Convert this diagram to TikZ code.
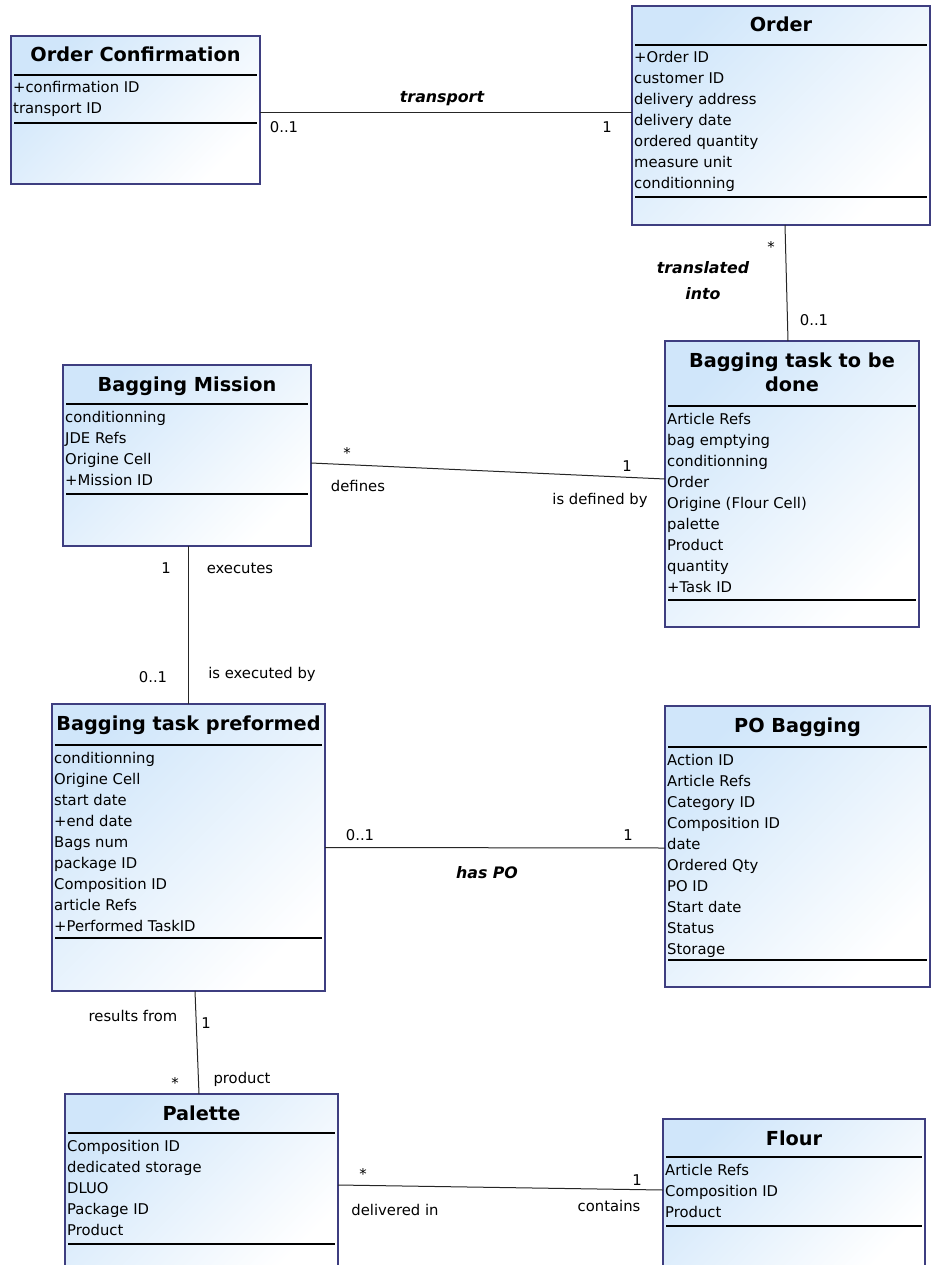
\documentclass[tikz,border=0pt]{standalone}
\usepackage{fontspec}
\setmainfont{DejaVu Sans}
\begin{document}
\definecolor{clsedge}{RGB}{62,62,128}
\definecolor{clsfill}{RGB}{208,230,250}
\tikzset{
  clsbox/.style={draw=clsedge, line width=1.4pt, inner sep=0pt, outer sep=0pt,
    top color=clsfill, middle color=clsfill!45, bottom color=white, shading angle=45},
  clssep/.style={draw=black, line width=1.2pt},
  clstitle/.style={inner sep=0pt, font=\fontsize{19.3}{23}\selectfont\bfseries},
  clsattr/.style={inner sep=0pt, font=\fontsize{14.8}{18}\selectfont},
  conn/.style={draw=black!85, line width=1pt},
  lbl/.style={inner sep=0pt, font=\fontsize{14.8}{18}\selectfont},
  rolelbl/.style={inner sep=0pt, font=\fontsize{15.8}{19}\selectfont\bfseries\itshape},
}
% UML class: name, x0, y0, x1, y1, title, first separator, second separator, attributes
\newcommand\umlclass[9]{%
  \node[clsbox, anchor=north west, minimum width={(#4-#2)*1pt}, minimum height={(#5-#3)*1pt}] (#1) at (#2,#3) {};
  \node[clstitle, anchor=base] (#1-t) at ({(#2+#4)/2},{#3+26}) {#6};
  \draw[clssep] ({#2+3},#7) -- ({#4-3},#7);
  \draw[clssep] ({#2+3},#8) -- ({#4-3},#8);
  \foreach \a [count=\i] in {#9} {
    \node[clsattr, anchor=base west] (#1-a\i) at ({#2+2},{#7+18+21*(\i-1)}) {\a};
  }%
}
\begin{tikzpicture}[x=1pt,y=-1pt]
\useasboundingbox (0,0) rectangle (931,1265);
\clip (0,0) rectangle (931,1265);
\fill[white] (0,0) rectangle (931,1265);

% classes
\umlclass{oc}{11}{36}{260}{184}{Order Confirmation}{75}{123}{+confirmation ID,transport ID}
\umlclass{ord}{632}{6}{930}{225}{Order}{45}{197}{+Order ID,customer ID,delivery address,delivery date,ordered quantity,measure unit,conditionning}
\umlclass{btd}{665}{341}{919}{627}{Bagging task to be}{406}{600}{Article Refs,bag emptying,conditionning,Order,Origine (Flour Cell),palette,Product,quantity,+Task ID}
\node[clstitle, anchor=base] (btd-t2) at (792,391) {done};
\umlclass{bm}{63}{365}{311}{546}{Bagging Mission}{404}{494}{conditionning,JDE Refs,Origine Cell,+Mission ID}
\umlclass{btp}{52}{704}{325}{991}{Bagging task preformed}{745}{938}{conditionning,Origine Cell,start date,+end date,Bags num,package ID,Composition ID,article Refs,+Performed TaskID}
\umlclass{po}{665}{706}{930}{987}{PO Bagging}{747}{960}{Action ID,Article Refs,Category ID,Composition ID,date,Ordered Qty,PO ID,Start date,Status,Storage}
\umlclass{pal}{65}{1094}{338}{1275}{Palette}{1133}{1244}{Composition ID,dedicated storage,DLUO,Package ID,Product}
\umlclass{fl}{663}{1119}{925}{1275}{Flour}{1157}{1226}{Article Refs,Composition ID,Product}

% associations
\draw[conn] ([yshift=-3pt]oc.east) -- ([yshift=2.5pt]ord.west);
\draw[conn] ([xshift=4pt]ord.south) -- ([xshift=-4pt]btd.north);
\draw[conn] ([yshift=-7.5pt]bm.east) -- ([yshift=5pt]btd.west);
\draw[conn] ([xshift=1pt]bm.south) -- ([xshift=-0.5pt]btp.north);
\draw[conn] (btp.east) -- ([yshift=-1.5pt]po.west);
\draw[conn] ([xshift=6.5pt]btp.south) -- ([xshift=-2.5pt]pal.north);
\draw[conn] ([yshift=-91pt]pal.north east) -- ([yshift=-71pt]fl.north west);

% association labels
\node[rolelbl] (l-transport) at (442,99) {transport};
\node[lbl] (l-oc-m) at (284,127) {0..1};
\node[lbl] (l-ord-m) at (607,127) {1};

\node[lbl] (l-ord-star) at (771,247) {*};
\node[rolelbl] (l-transl) at (703,268) {translated};
\node[rolelbl] (l-into) at (703,294) {into};
\node[lbl] (l-btd-m) at (814,320) {0..1};

\node[lbl] (l-bm-star) at (347,453) {*};
\node[lbl] (l-defines) at (358,486) {defines};
\node[lbl] (l-btd-one) at (627,466) {1};
\node[lbl] (l-isdef) at (600,500) {is defined by};

\node[lbl] (l-bm-one) at (166,568) {1};
\node[lbl] (l-executes) at (240,568) {executes};
\node[lbl] (l-btp-m) at (153,677) {0..1};
\node[lbl] (l-isexec) at (262,674) {is executed by};

\node[lbl] (l-btp-po) at (360,835) {0..1};
\node[lbl] (l-po-one) at (628,835) {1};
\node[rolelbl] (l-haspo) at (487,873) {has PO};

\node[lbl] (l-results) at (133,1016) {results from};
\node[lbl] (l-btp-one) at (206,1023) {1};
\node[lbl] (l-pal-star) at (175,1083) {*};
\node[lbl] (l-product) at (242,1079) {product};

\node[lbl] (l-pal-star2) at (363,1174) {*};
\node[lbl] (l-fl-one) at (637,1180) {1};
\node[lbl] (l-delivered) at (395,1210) {delivered in};
\node[lbl] (l-contains) at (609,1206) {contains};
\end{tikzpicture}
\end{document}
